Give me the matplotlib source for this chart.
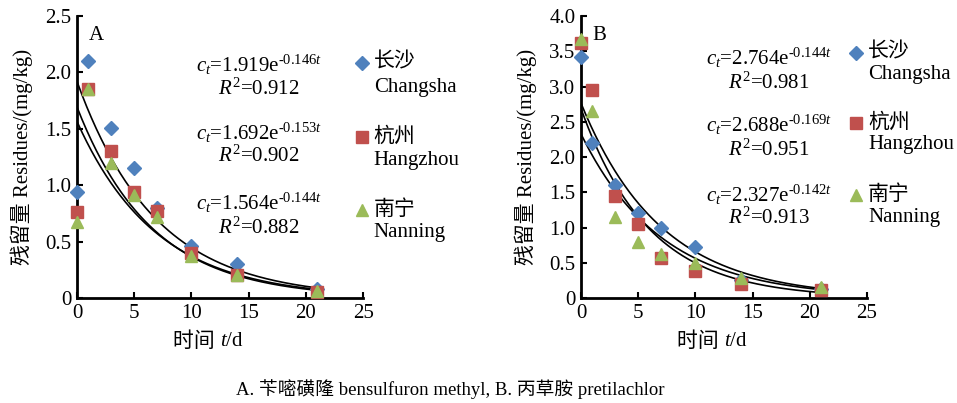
import numpy as np
import matplotlib
matplotlib.use("Agg")
import matplotlib.pyplot as plt

plt.rcParams['font.family'] = ['Liberation Serif', 'Noto Sans CJK SC']
plt.rcParams['mathtext.fontset'] = 'custom'
plt.rcParams['mathtext.rm'] = 'Liberation Serif'
plt.rcParams['mathtext.it'] = 'Liberation Serif:italic'

# sampling days
days = [0, 1, 3, 5, 7, 10, 14, 21]

# panel A - bensulfuron methyl
a_changsha = [0.94, 2.10, 1.51, 1.15, 0.80, 0.46, 0.30, 0.08]
a_hangzhou = [0.76, 1.85, 1.30, 0.94, 0.77, 0.40, 0.20, 0.05]
a_nanning = [0.67, 1.85, 1.20, 0.91, 0.72, 0.37, 0.20, 0.06]
a_fit = [(1.919, 0.146, 0.912), (1.692, 0.153, 0.902), (1.564, 0.144, 0.882)]

# panel B - pretilachlor
b_changsha = [3.42, 2.20, 1.60, 1.20, 1.00, 0.72, 0.25, 0.13]
b_hangzhou = [3.62, 2.95, 1.45, 1.05, 0.57, 0.38, 0.20, 0.12]
b_nanning = [3.68, 2.65, 1.15, 0.80, 0.63, 0.50, 0.28, 0.16]
b_fit = [(2.764, 0.144, 0.981), (2.688, 0.169, 0.951), (2.327, 0.142, 0.913)]

sites_cn = ["长沙", "杭州", "南宁"]
sites_en = ["Changsha", "Hangzhou", "Nanning"]
colors = ["#4f81bd", "#c0504d", "#9bbb59"]
markers = ["D", "s", "^"]
msizes = [7, 8, 9]

fig = plt.figure(figsize=(9.57, 4.03), dpi=100)


def draw_panel(ax, series, fits, ymax, letter, eq_x, eq_y, leg_x, leg_y):
    # fitted first-order curves c_t = c0 * exp(-k t)
    tt = np.linspace(0, 21, 200)
    for c0, k, r2 in fits:
        ax.plot(tt, c0 * np.exp(-k * tt), color="black", lw=1.2, zorder=2)
    for vals, col, mk, ms in zip(series, colors, markers, msizes):
        ax.plot(days, vals, linestyle="none", marker=mk, color=col,
                markersize=ms, zorder=3, clip_on=False)
    ax.set_xlim(0, 25)
    ax.set_ylim(0, ymax)
    ax.set_xticks(range(0, 26, 5))
    yt = np.arange(0, ymax + 0.001, 0.5)
    ax.set_yticks(yt)
    ax.set_yticklabels(["0"] + ["%.1f" % v for v in yt[1:]])
    for s in ["top", "right"]:
        ax.spines[s].set_visible(False)
    for s in ["left", "bottom"]:
        ax.spines[s].set_linewidth(2)
    ax.tick_params(direction="in", length=4, width=1.5, labelsize=15, pad=4)
    # x label split so the CJK part is not in mathtext
    ax.text(0.5, -0.155, "时间 ", transform=ax.transAxes, fontsize=15,
            ha="right", va="center")
    ax.text(0.5, -0.155, "$t$/d", transform=ax.transAxes, fontsize=15,
            ha="left", va="center")
    ax.set_ylabel("残留量 Residues/(mg/kg)", fontsize=15, labelpad=9)
    ax.text(0.04, 0.93, letter, transform=ax.transAxes, fontsize=15,
            va="center", ha="left")
    for (c0, k, r2), (y1, y2) in zip(fits, eq_y):
        ax.text(eq_x, y1,
                "$c_t$=%.3fe$^{\u2010%.3f t}$" % (c0, k),
                transform=ax.transAxes, fontsize=15, ha="center", va="center")
        ax.text(eq_x, y2, "$R^2$=%.3f" % r2,
                transform=ax.transAxes, fontsize=15, ha="center", va="center")
    # legend at right of the axes
    for cn, en, col, mk, ms, (y1, y2) in zip(sites_cn, sites_en, colors,
                                             markers, msizes, leg_y):
        ax.plot([leg_x], [y1], transform=ax.transAxes, linestyle="none",
                marker=mk, color=col, markersize=ms, clip_on=False)
        ax.text(leg_x + 0.04, y1, cn, transform=ax.transAxes, fontsize=15,
                ha="left", va="center")
        ax.text(leg_x + 0.04, y2, en, transform=ax.transAxes, fontsize=15,
                ha="left", va="center")


ax1 = fig.add_axes([0.0805, 0.2605, 0.2989, 0.6998])
draw_panel(ax1, [a_changsha, a_hangzhou, a_nanning], a_fit, 2.5, "A", 0.636,
           [(0.826, 0.741), (0.585, 0.504), (0.337, 0.248)],
           0.997, [(0.833, 0.748), (0.571, 0.489), (0.312, 0.234)])

ax2 = fig.add_axes([0.6071, 0.2605, 0.2989, 0.6998])
draw_panel(ax2, [b_changsha, b_hangzhou, b_nanning], b_fit, 4.0, "B", 0.657,
           [(0.851, 0.762), (0.613, 0.525), (0.365, 0.284)],
           0.963, [(0.869, 0.791), (0.620, 0.543), (0.365, 0.284)])

fig.text(0.470, 0.035, "A. 苄嘧磺隆 bensulfuron methyl, B. 丙草胺 pretilachlor",
         fontsize=13.5, ha="center", va="center")

fig.savefig("out.png", dpi=100)
